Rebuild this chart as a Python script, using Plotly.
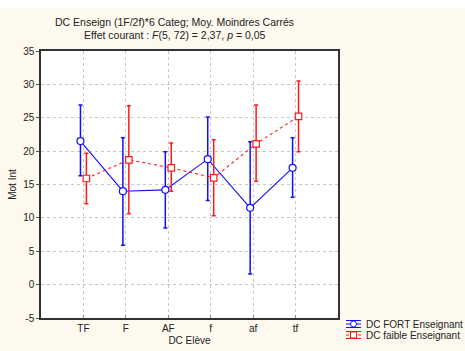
import plotly.graph_objects as go

categories = ["TF", "F", "AF", "f", "af", "tf"]
fort_mean = [21.5, 14.0, 14.2, 18.8, 11.5, 17.5]
fort_low = [16.3, 5.9, 8.5, 12.6, 1.6, 13.1]
fort_high = [26.9, 22.0, 19.9, 25.1, 21.4, 22.0]
faible_mean = [15.9, 18.7, 17.5, 16.0, 21.1, 25.2]
faible_low = [12.1, 10.6, 14.0, 10.3, 15.5, 19.9]
faible_high = [19.7, 26.8, 21.2, 21.7, 26.9, 30.5]
y_ticks = [-5, 0, 5, 10, 15, 20, 25, 30, 35]
series_names = ["DC FORT Enseignant", "DC faible Enseignant"]

BLUE = "#1010FF"
RED = "#FF1A1A"
BG = "#FEF9EE"
FONT = "Liberation Sans, Arial, sans-serif"

idx = list(range(len(categories)))
off = 0.07

fig = go.Figure()
fig.add_trace(go.Scatter(
    x=[i - off for i in idx], y=fort_mean, mode="lines+markers",
    name=series_names[0], showlegend=False,
    line=dict(color=BLUE, width=1.1),
    marker=dict(symbol="circle", size=7, color="white", line=dict(color=BLUE, width=1.2)),
    error_y=dict(type="data", symmetric=False,
                 array=[h - m for h, m in zip(fort_high, fort_mean)],
                 arrayminus=[m - l for m, l in zip(fort_mean, fort_low)],
                 color=BLUE, thickness=1.5, width=2),
))
fig.add_trace(go.Scatter(
    x=[i + off for i in idx], y=faible_mean, mode="lines+markers",
    name=series_names[1], showlegend=False,
    line=dict(color=RED, width=1.1, dash="dot"),
    marker=dict(symbol="square", size=6.5, color="white", line=dict(color=RED, width=1.2)),
    error_y=dict(type="data", symmetric=False,
                 array=[h - m for h, m in zip(faible_high, faible_mean)],
                 arrayminus=[m - l for m, l in zip(faible_mean, faible_low)],
                 color=RED, thickness=1.5, width=2),
))

# manual compact legend (symbols + labels), placed at lower right outside plot
W, H = 297.0, 267.0  # plot area size in px
def px(x):
    return (x - 41) / W
def py(y):
    return (318 - y) / H

shapes = [dict(type="rect", xref="paper", yref="paper",
               x0=-0.3, x1=1.6, y0=py(8), y1=1.3,
               fillcolor="white", line=dict(width=0), layer="below")]
annotations = [
    dict(text="DC Enseign (1F/2f)*6 Categ; Moy. Moindres Carrés",
         xref="paper", yref="paper", x=px(174.5), y=py(22),
         showarrow=False, font=dict(size=10.5), xanchor="center", yanchor="middle"),
    dict(text="Effet courant : <i>F</i>(5, 72) = 2,37, <i>p</i> = 0,05",
         xref="paper", yref="paper", x=px(174.5), y=py(35),
         showarrow=False, font=dict(size=10.5), xanchor="center", yanchor="middle"),
]
legend_rows = [(324, BLUE, "solid", "circle", series_names[0]),
               (335, RED, "dot", "square", series_names[1])]
for yc, col, dash, sym, name in legend_rows:
    shapes.append(dict(type="line", xref="paper", yref="paper",
                       x0=px(346), x1=px(361), y0=py(yc), y1=py(yc),
                       line=dict(color=col, width=1, dash=dash)))
    for dy in (-3.5, 3.5):
        shapes.append(dict(type="line", xref="paper", yref="paper",
                           x0=px(346), x1=px(361), y0=py(yc + dy), y1=py(yc + dy),
                           line=dict(color=col, width=1)))
    if sym == "circle":
        shapes.append(dict(type="circle", xref="paper", yref="paper",
                           x0=px(350.5), x1=px(356.5), y0=py(yc - 3), y1=py(yc + 3),
                           fillcolor="white", line=dict(color=col, width=1)))
    else:
        shapes.append(dict(type="rect", xref="paper", yref="paper",
                           x0=px(350.5), x1=px(356.5), y0=py(yc - 3), y1=py(yc + 3),
                           fillcolor="white", line=dict(color=col, width=1)))
    annotations.append(dict(text=name, xref="paper", yref="paper",
                            x=px(364), y=py(yc), xanchor="left", yanchor="middle",
                            showarrow=False, font=dict(size=10, color="#222222")))

fig.update_layout(
    width=465, height=351,
    margin=dict(l=41, r=127, t=51, b=33, autoexpand=False),
    paper_bgcolor=BG, plot_bgcolor="white",
    font=dict(family=FONT, size=10, color="#222222"),
    showlegend=False,
    xaxis=dict(range=[-1, 6], tickmode="array", tickvals=idx, ticktext=categories,
               showgrid=True, gridcolor="#C8C8C8", griddash="dot", gridwidth=1,
               showline=True, linecolor="#333333", linewidth=1.5, mirror=True,
               ticks="inside", ticklen=3, tickcolor="#888888",
               zeroline=False,
               title=dict(text="DC Elève", font=dict(size=10), standoff=4)),
    yaxis=dict(range=[-5, 35], tickmode="array", tickvals=y_ticks,
               ticktext=[str(v) for v in y_ticks],
               showgrid=True, gridcolor="#C8C8C8", griddash="dot", gridwidth=1,
               showline=True, linecolor="#333333", linewidth=1.5, mirror=True,
               ticks="outside", ticklen=3, tickcolor="#555555",
               zeroline=False,
               title=dict(text="Mot Int", font=dict(size=10), standoff=5)),
    shapes=shapes,
    annotations=annotations,
)

fig.write_html("out.html",
               config={"displayModeBar": False},
               post_script="document.body.style.margin='0';document.body.style.overflow='hidden';")
